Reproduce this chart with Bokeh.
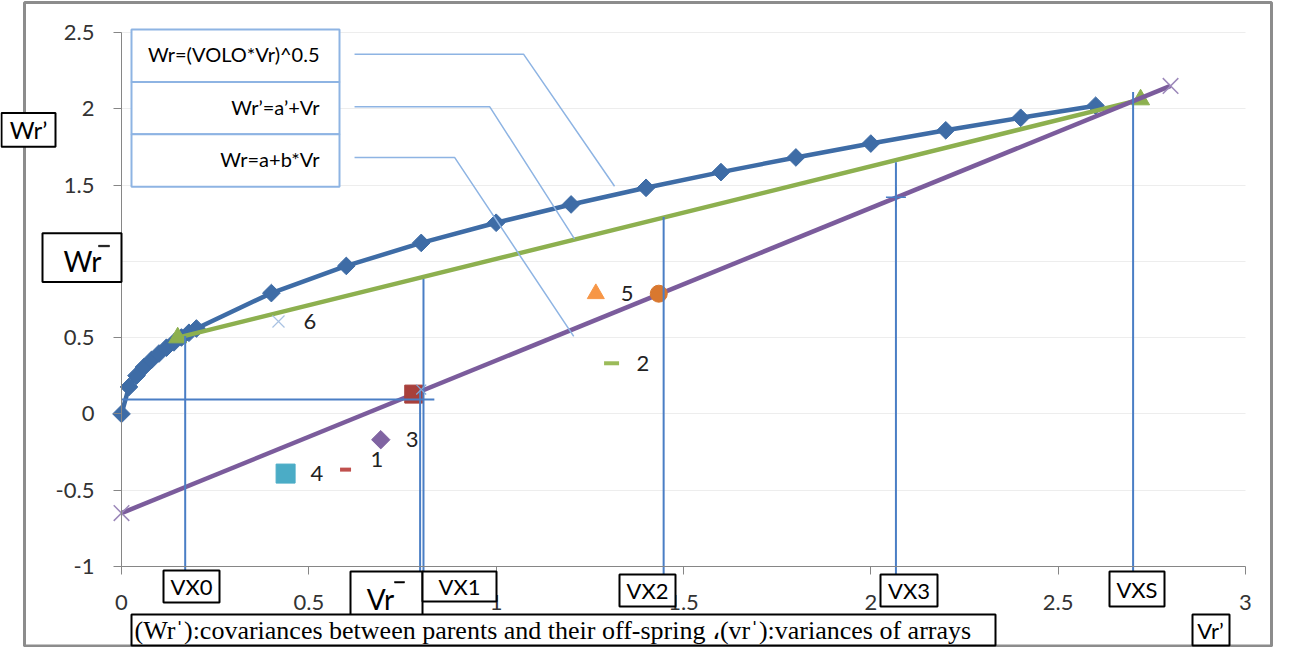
from bokeh.plotting import figure
from bokeh.models import BoxAnnotation, Label, FixedTicker, ColumnDataSource
from bokeh.core.properties import value
from bokeh.embed import file_html
from bokeh.resources import INLINE

# ---------------- data ----------------
curve_vr = [0.0, 0.02, 0.04, 0.06, 0.08, 0.10, 0.12, 0.14, 0.16, 0.18, 0.20,
            0.4, 0.6, 0.8, 1.0, 1.2, 1.4, 1.6, 1.8, 2.0, 2.2, 2.4, 2.6]
curve_wr = [0.0, 0.177, 0.251, 0.307, 0.354, 0.396, 0.434, 0.469, 0.501, 0.532, 0.560,
            0.792, 0.970, 1.121, 1.253, 1.373, 1.482, 1.585, 1.681, 1.772, 1.859, 1.941, 2.020]

tangent_vr = [0.15, 2.72]
tangent_wr = [0.50, 2.06]

regr_vr = [0.0, 2.80]
regr_wr = [-0.65, 2.15]

array_labels = ["1", "2", "3", "4", "5", "6"]
array_vr = [0.598, 1.308, 0.692, 0.438, 1.266, 0.419]
array_wr = [-0.365, 0.332, -0.169, -0.391, 0.788, 0.606]
array_markers = ["dash", "dash", "square", "square", "triangle", "x"]
array_colors = ["#C0504D", "#9BBB59", "#8064A2", "#4BACC6", "#F79646", "#A9C2E2"]

mean_point = (0.78, 0.13)        # red square (Vr-bar, Wr-bar)
orange_point = (1.434, 0.788)    # orange circle on the regression line

vx_names = ["VX0", "VX1", "VX2", "VX3", "VXS"]
vx_vr = [0.17, 0.806, 1.447, 2.067, 2.70]
vx_top = [0.51, 0.885, 1.29, 1.65, 2.11]

hline_vr = [0.0, 0.835]
hline_wr = [0.095, 0.095]

legend_texts = ["Wr=(VOLO*Vr)^0.5", "Wr\u2019=a\u2019+Vr", "Wr=a+b*Vr"]
leader_vr = [[0.622, 1.073, 1.316], [0.622, 0.983, 1.209], [0.622, 0.889, 1.207]]
leader_wr = [[2.358, 2.358, 1.492], [2.013, 2.013, 1.147], [1.681, 1.681, 0.508]]

x_ticks = [0, 0.5, 1, 1.5, 2, 2.5, 3]
x_tick_labels = ["0", "0.5", "1", "1.5", "2", "2.5", "3"]
y_ticks = [-1, -0.5, 0, 0.5, 1, 1.5, 2, 2.5]
y_tick_labels = ["-1", "-0.5", "0", "0.5", "1", "1.5", "2", "2.5"]

caption = "(Wr\u02c8):covariances between parents and their off-spring \u060c(vr\u02c8):variances of arrays"

# ---------------- layout ----------------
W, H = 1273, 647
AX_L, AX_R = 121, 1245          # canvas px of x = 0 and x = 3
AX_T, AX_B = 32, 566            # canvas px of y = 2.5 and y = -1
XMIN, XMAX, YMIN, YMAX = 0.0, 3.0, -1.0, 2.5
DIAMOND = 0.785398              # square turned 45 degrees

def X(cx):  # canvas pixel -> data x
    return XMIN + (cx - AX_L) / (AX_R - AX_L) * (XMAX - XMIN)

def Y(cy):  # canvas pixel -> data y
    return YMAX - (cy - AX_T) / (AX_B - AX_T) * (YMAX - YMIN)

def RY(ry):  # reference-picture y (plot region) -> canvas y
    return AX_T + (ry - 38) * (AX_B - AX_T) / 537.0

def RX(rx):
    return rx - 8

FONT = "Lato"

p = figure(width=W, height=H, x_range=(X(0), X(W)), y_range=(Y(H), Y(0)),
           output_backend="svg", toolbar_location=None,
           min_border=0, min_border_left=0, min_border_right=0,
           min_border_top=0, min_border_bottom=0)
p.outline_line_color = None
p.background_fill_color = "white"
p.border_fill_color = "white"

p.xgrid.grid_line_color = None
p.ygrid.ticker = FixedTicker(ticks=y_ticks)
p.ygrid.grid_line_color = "#EDEDED"
p.ygrid.grid_line_width = 1
grid_ok = True
try:
    p.ygrid.cross_bounds = (XMIN, XMAX)
except Exception:
    grid_ok = False
if not grid_ok:
    p.ygrid.grid_line_color = None
    p.segment([XMIN] * len(y_ticks), y_ticks, [XMAX] * len(y_ticks), y_ticks,
              line_color="#EDEDED", line_width=1)

p.xaxis.ticker = FixedTicker(ticks=x_ticks)
p.yaxis.ticker = FixedTicker(ticks=y_ticks)
p.xaxis.major_label_overrides = dict(zip(x_ticks, x_tick_labels))
p.yaxis.major_label_overrides = dict(zip(y_ticks, y_tick_labels))
p.xaxis.fixed_location = YMIN
p.yaxis.fixed_location = XMIN
p.xaxis.bounds = (XMIN, XMAX)
p.yaxis.bounds = (YMIN, YMAX)
for ax in (p.xaxis, p.yaxis):
    ax.axis_line_color = "#868686"
    ax.major_tick_line_color = "#868686"
    ax.minor_tick_line_color = None
    ax.major_tick_in = 0
    ax.major_tick_out = 8
    ax.major_label_text_font = FONT
    ax.major_label_text_font_size = "22px"
    ax.major_label_text_color = "#333333"
p.xaxis.major_label_standoff = 20
p.yaxis.major_label_standoff = 19

# ---------------- glyphs ----------------
p.line(curve_vr, curve_wr, line_color="#3E6CA6", line_width=4.5)
p.scatter(curve_vr, curve_wr, marker="square", angle=DIAMOND, size=12.5,
          fill_color="#3E6CA6", line_color="#3E6CA6")

p.line(tangent_vr, tangent_wr, line_color="#8DB04F", line_width=4.5)
p.scatter(tangent_vr, tangent_wr, marker="triangle", size=18, fill_color="#8DB04F", line_color="#8DB04F")

p.line(regr_vr, regr_wr, line_color="#7B5C9C", line_width=4.5)
p.scatter(regr_vr, regr_wr, marker="x", size=22, line_color="#9C88BA", line_width=1.5)

src = ColumnDataSource(dict(x=array_vr, y=array_wr, m=array_markers, c=array_colors,
                            t=array_labels, yo=[-10, 0, 0, 0, 0, 0],
                            a=[0, 0, DIAMOND, 0, 0, 0],
                            s=[11, 15, 13, 19, 17, 17], lw=[4, 4, 1, 1, 1, 1.2]))
p.scatter("x", "y", marker="m", size="s", angle="a", fill_color="c", line_color="c",
          line_width="lw", source=src)
p.text("x", "y", text="t", x_offset=25, y_offset="yo", source=src,
       text_font=value(FONT), text_font_size="22px", text_color="#222222",
       text_baseline="middle", text_align="left")

p.scatter([orange_point[0]], [orange_point[1]], marker="circle", size=17,
          fill_color="#D9782F", line_color="#D9782F")
p.scatter([mean_point[0]], [mean_point[1]], marker="square", size=18,
          fill_color="#A8403C", line_color="#A8403C")

THIN = "#4A7EC5"
for vx, top in zip(vx_vr, vx_top):
    p.line([vx, vx], [top, YMIN - 0.05], line_color=THIN, line_width=2)
p.line([0.797, 0.797], [0.16, YMIN - 0.05], line_color=THIN, line_width=2)
p.line(hline_vr, hline_wr, line_color=THIN, line_width=2)
p.scatter([2.067], [1.42], marker="cross", size=20, line_color=THIN, line_width=1.5)
p.scatter([0.80], [0.16], marker="x", size=14, line_color="#7FA6D8", line_width=1.2)

for lx, ly in zip(leader_vr, leader_wr):
    p.line(lx, ly, line_color="#8EB4E3", line_width=1.5)

# ---------------- annotations ----------------
def box(x0, y0, x1, y1, color="black", lw=2, fill=True, fill_color="white"):
    p.add_layout(BoxAnnotation(left=X(x0), right=X(x1), top=Y(y0), bottom=Y(y1),
                               fill_color=fill_color, fill_alpha=1.0 if fill else 0.0,
                               line_color=color, line_width=lw, line_alpha=1.0))

def text(t, cx, cy, size, align="center", font=FONT, color="black"):
    p.add_layout(Label(x=X(cx), y=Y(cy), text=t, text_font=font, text_font_size=size,
                       text_align=align, text_baseline="middle", text_color=color))

# outer frame of the chart
box(24, 2, 1271, 645.5, color="#8C8C8C", lw=3, fill=False)

# callout boxes
for i, t in enumerate(legend_texts):
    ry0 = 35 + i * 52.7
    box(RX(139), RY(ry0), RX(347), RY(ry0 + 52.7), color="#8EB4E3", lw=2)
    text(t, RX(327), RY(ry0 + 25), "20px", align="right")

# axis title boxes
box(RX(9), RY(119), RX(63), RY(153))
text("Wr\u2019", RX(36), RY(136), "24px")
box(RX(50), RY(240), RX(129), RY(289))
text("Wr", RX(90), RY(268), "28px")
box(RX(106), RY(252), RX(117), RY(253.5), color="black", lw=0.5, fill_color="black")

box(RX(358), 571, RX(430), 620)
text("Vr", RX(388), 598, "28px")
box(RX(402), 581, RX(412), 582.5, color="black", lw=0.5, fill_color="black")

vx_boxes = [(171, 570, 227, 602), (430, 571, 504, 601), (627, 574, 683, 606),
            (888, 574, 945, 606), (1117, 571, 1172, 606)]
for name, (a, b, c, d) in zip(vx_names, vx_boxes):
    box(RX(a), b, RX(c), d)
    text(name, RX((a + c) / 2), (b + d) / 2, "22px")

box(RX(139), 614, RX(1003), 645)
text(caption, RX(142), 630, "26px", align="left", font="Liberation Serif")
box(RX(1200), 614, RX(1237), 645)
text("Vr\u2019", RX(1218), 630, "22px")

open("out.html", "w").write(file_html(p, INLINE))
